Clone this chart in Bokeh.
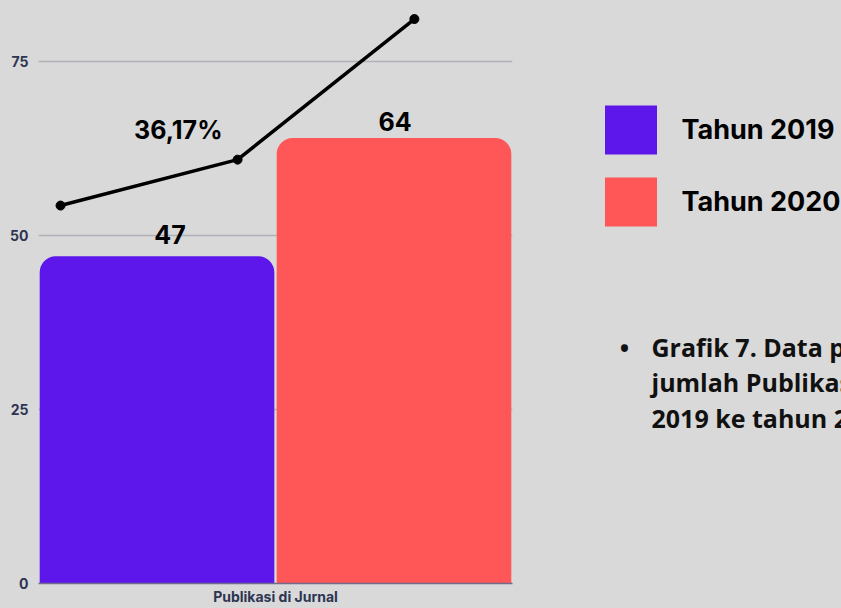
from bokeh.plotting import figure
from bokeh.models import Range1d, FixedTicker, Label, Legend, LegendItem, ColumnDataSource
from bokeh.layouts import row
from bokeh.embed import file_html
from bokeh.resources import INLINE

BG = "#d9d9d9"

# ---- data ----
categories = ["Tahun 2019", "Tahun 2020"]
values = [47, 64]
bar_x = [0.5, 1.5]
colors = ["#5e17eb", "#ff5757"]
line_x = [0.093, 0.840, 1.586]
line_y = [54.3, 60.9, 81.1]
growth_label = "36,17%"
y_ticks = [0, 25, 50, 75]
x_tick = [1]
x_label = "Publikasi di Jurnal"
caption_lines = ["Grafik 7. Data peningkatan",
                 "jumlah Publikasi di Jurnal dari tahun",
                 "2019 ke tahun 2020"]

TICK_COLOR = "#2e3553"
TOP, BOTTOM = 9, 25

p1 = figure(width=560, height=608, x_range=Range1d(0, 2), y_range=Range1d(0, 82.47),
            output_backend="svg", toolbar_location=None,
            min_border_left=38, min_border_right=48, min_border_top=TOP, min_border_bottom=BOTTOM,
            background_fill_color=None, border_fill_color=BG, outline_line_color=None)

p1.xaxis.ticker = FixedTicker(ticks=x_tick)
p1.xaxis.major_label_overrides = {x_tick[0]: x_label}
p1.xaxis.major_label_text_font = "Inter"
p1.xaxis.major_label_text_font_style = "bold"
p1.xaxis.major_label_text_font_size = "14px"
p1.xaxis.major_label_text_color = TICK_COLOR
p1.xaxis.major_label_standoff = 4
p1.xaxis.axis_line_color = "#6f6c8c"
p1.xaxis.axis_line_width = 1.5
p1.xaxis.major_tick_line_color = None
p1.xaxis.minor_tick_line_color = None
p1.xaxis.major_tick_out = 0
p1.xaxis.minor_tick_out = 0

p1.yaxis.ticker = FixedTicker(ticks=y_ticks)
p1.yaxis.axis_line_color = None
p1.yaxis.major_tick_line_color = None
p1.yaxis.minor_tick_line_color = None
p1.yaxis.major_tick_out = 0
p1.yaxis.minor_tick_out = 0
p1.yaxis.major_label_text_font = "Inter"
p1.yaxis.major_label_text_font_style = "bold"
p1.yaxis.major_label_text_font_size = "14px"
p1.yaxis.major_label_text_color = TICK_COLOR
p1.yaxis.major_label_standoff = 10

p1.xgrid.visible = False
p1.ygrid.ticker = FixedTicker(ticks=y_ticks)
p1.ygrid.grid_line_color = "#b2b0b8"
p1.ygrid.grid_line_width = 1.7

src = ColumnDataSource(dict(x=bar_x, top=values, color=colors, cat=categories))
p1.vbar(x="x", top="top", width=0.99, fill_color="color", line_color=None,
        border_radius=(16, 16, 0, 0), source=src)

p1.line(line_x, line_y, line_color="black", line_width=3.5)
p1.scatter(line_x, line_y, size=9, color="black")

label_offsets = [(13, 22), (1, 17)]
for i in range(len(values)):
    p1.add_layout(Label(x=bar_x[i], y=values[i], text=str(values[i]),
                        x_offset=label_offsets[i][0], y_offset=label_offsets[i][1],
                        text_align="center", text_baseline="middle",
                        text_font="Inter", text_font_style="bold", text_font_size="25px",
                        text_color="black"))

p1.add_layout(Label(x=0.59, y=65.1, text=growth_label, text_align="center",
                    text_baseline="middle", text_font="Inter", text_font_style="bold",
                    text_font_size="25px", text_color="black"))

# ---- right panel: legend + caption (coordinates in page pixels) ----
p2 = figure(width=281, height=608, x_range=Range1d(560, 841), y_range=Range1d(608 - BOTTOM, TOP),
            output_backend="svg", toolbar_location=None,
            min_border_left=0, min_border_right=0, min_border_top=TOP, min_border_bottom=BOTTOM,
            x_axis_location=None, y_axis_location=None,
            background_fill_color=None, border_fill_color=BG, outline_line_color=None)
p2.grid.visible = False

items = []
for i in range(len(categories)):
    # legend-only renderers (NaN position, nothing drawn in the plot area)
    r = p2.vbar(x=[float("nan")], top=[values[i]], width=1, fill_color=colors[i], line_color=None)
    items.append(LegendItem(label=categories[i], renderers=[r]))

legend = Legend(items=items, location=(37.5, 351), padding=0, margin=0, spacing=11,
                glyph_width=65, glyph_height=61, label_standoff=19,
                label_text_font="Inter", label_text_font_style="bold",
                label_text_font_size="27px", label_text_color="black",
                border_line_color=None, background_fill_alpha=0)
p2.add_layout(legend)

cap_y = [346, 381.5, 417]
p2.add_layout(Label(x=624, y=cap_y[0], text="•", text_align="center", text_baseline="middle",
                    text_font="Open Sans", text_font_style="bold", text_font_size="25px",
                    text_color="#111111"))
for j, line in enumerate(caption_lines):
    p2.add_layout(Label(x=651, y=cap_y[j], text=line, text_align="left",
                        text_baseline="middle", text_font="Open Sans",
                        text_font_style="bold", text_font_size="25px", text_color="#111111"))

layout = row(p1, p2, styles={"background-color": BG})
open("out.html", "w").write(file_html(layout, INLINE))
